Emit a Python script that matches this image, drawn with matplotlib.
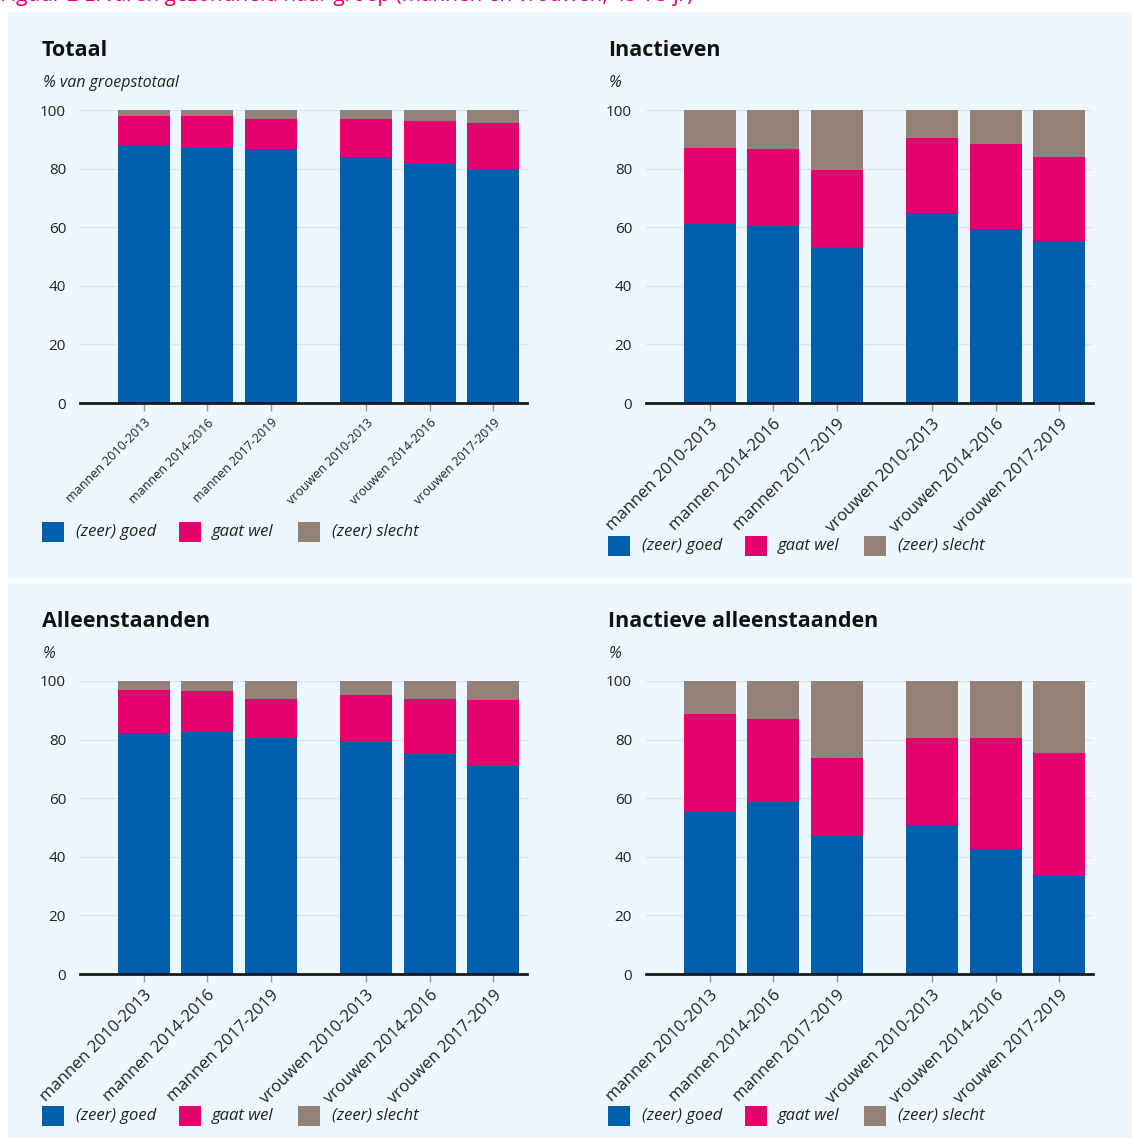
import matplotlib.pyplot as plt
from matplotlib.patches import Rectangle

plt.rcParams['font.family'] = ['Open Sans', 'DejaVu Sans']

# categories and values (% van groepstotaal)
categories = ['mannen 2010-2013', 'mannen 2014-2016', 'mannen 2017-2019',
              'vrouwen 2010-2013', 'vrouwen 2014-2016', 'vrouwen 2017-2019']
series_names = ['(zeer) goed', 'gaat wel', '(zeer) slecht']
colors = ['#005EAF', '#E5006D', '#94827A']

panel_titles = ['Totaal', 'Inactieven', 'Alleenstaanden', 'Inactieve alleenstaanden']
panel_units = ['% van groepstotaal', '%', '%', '%']

goed_totaal = [87.9, 87.4, 86.6, 83.8, 81.8, 80.0]
wel_totaal = [10.0, 10.5, 10.4, 13.2, 14.3, 15.7]
goed_inactief = [61.2, 60.3, 52.8, 65.0, 59.3, 55.4]
wel_inactief = [25.8, 26.3, 26.7, 25.4, 29.1, 28.4]
goed_alleen = [82.1, 82.6, 80.7, 79.1, 75.1, 71.1]
wel_alleen = [14.9, 14.0, 13.1, 16.2, 18.7, 22.4]
goed_inact_alleen = [55.3, 58.8, 47.0, 50.9, 42.6, 33.9]
wel_inact_alleen = [33.4, 28.1, 26.7, 29.8, 38.1, 41.6]

positions = [0, 1, 2, 3.5, 4.5, 5.5]

W, H = 1132, 1138
fig = plt.figure(figsize=(W / 100, H / 100), dpi=100)
fig.patch.set_facecolor('white')
BG = '#EDF7FE'


def fx(px):
    return px / W


def fy(py):
    return 1 - py / H


# panel backgrounds
fig.add_artist(Rectangle((fx(8), fy(578)), fx(1124), 566 / H, transform=fig.transFigure,
                         facecolor=BG, edgecolor='none', zorder=0))
fig.add_artist(Rectangle((fx(8), fy(1138)), fx(1124), 555 / H, transform=fig.transFigure,
                         facecolor=BG, edgecolor='none', zorder=0))

# figure title, cut off at the top edge as in the source
fig.text(fx(0), fy(1), 'Figuur 2 Ervaren gezondheid naar groep (mannen en vrouwen, 45-75 jr)',
         color='#E5006D', fontsize=15, va='baseline', ha='left')


def draw_panel(left, top, goed, wel, title, unit, label_size, legend_y):
    x0, x1 = left + 38, left + 485
    y0, y1 = top + 98, top + 391
    ax = fig.add_axes([fx(x0), fy(y1), (x1 - x0) / W, (y1 - y0) / H])
    ax.set_facecolor('none')
    slecht = [100 - g - w for g, w in zip(goed, wel)]
    bottoms = [0] * 6
    for vals, c in zip([goed, wel, slecht], colors):
        ax.bar(positions, vals, width=0.82, bottom=bottoms, color=c, zorder=2)
        bottoms = [b + v for b, v in zip(bottoms, vals)]
    ax.set_xlim(-1.0, 6.03)
    ax.set_ylim(0, 100)
    ax.set_yticks([0, 20, 40, 60, 80, 100])
    ax.grid(axis='y', color='#DCE5EE', linewidth=1, zorder=0)
    for s in ['top', 'right', 'left']:
        ax.spines[s].set_visible(False)
    ax.spines['bottom'].set_linewidth(2)
    ax.spines['bottom'].set_color('#1a1a1a')
    ax.spines['bottom'].set_zorder(3)
    ax.tick_params(axis='y', length=0, labelsize=11, pad=10, labelcolor='#222222')
    ax.tick_params(axis='x', length=6, color='#999999', width=1)
    ax.set_xticks(positions)
    ax.set_xticklabels(categories, rotation=45, ha='right', rotation_mode='anchor',
                       fontsize=label_size, color='#222222')

    fig.text(fx(left), fy(top + 44), title, fontsize=15.5, fontweight='bold',
             va='baseline', ha='left', color='#111111')
    fig.text(fx(left + 1), fy(top + 75), unit, fontsize=11.5, style='italic',
             va='baseline', ha='left', color='#222222')

    # legend
    offsets = [0, 137, 256]
    text_offsets = [34, 170, 290]
    for off, toff, name, c in zip(offsets, text_offsets, series_names, colors):
        fig.add_artist(Rectangle((fx(left + off), fy(legend_y + 10)), 22 / W, 20 / H,
                                 transform=fig.transFigure, facecolor=c, edgecolor='none'))
        fig.text(fx(left + toff), fy(legend_y), name, fontsize=12, style='italic',
                 va='center', ha='left', color='#222222')
    return ax


draw_panel(42, 12, goed_totaal, wel_totaal, panel_titles[0], panel_units[0], 9, 532)
draw_panel(608, 12, goed_inactief, wel_inactief, panel_titles[1], panel_units[1], 12, 546)
draw_panel(42, 583, goed_alleen, wel_alleen, panel_titles[2], panel_units[2], 12, 1116)
draw_panel(608, 583, goed_inact_alleen, wel_inact_alleen, panel_titles[3], panel_units[3], 12, 1116)

fig.savefig('out.png', dpi=100, facecolor=fig.get_facecolor())
